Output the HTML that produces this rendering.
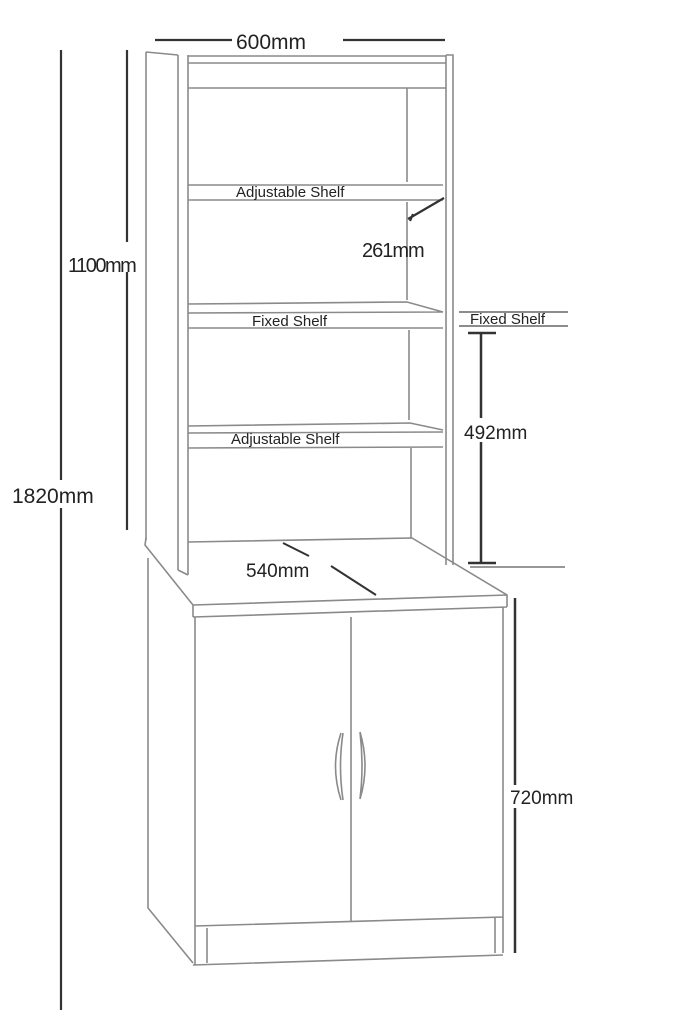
<!DOCTYPE html>
<html><head><style>
html,body{margin:0;padding:0;background:#fff;width:683px;height:1024px;overflow:hidden}
svg{display:block}
text{font-family:"Liberation Sans",sans-serif;fill:#222}
</style></head><body>
<svg width="683" height="1024" viewBox="0 0 683 1024" xmlns="http://www.w3.org/2000/svg">
<g fill="none" stroke="#8a8a8a" stroke-width="1.6">
<path d="M146 52 L178 55 M146 52 L146 540 M178 55 L178 570 M188 55 L188 575 M178 570 L188 575"/>
<path d="M446 55 L453 55 L453 565 M446 55 L446 565"/>
<path d="M188 56 L446 56 M188 63 L446 63 M188 88 L446 88"/>
<path d="M407 88 L407 182 M407 202 L407 300 M409 330 L409 420 M411 448 L411 538"/>
<path d="M188 185 L443 185 M188 200 L443 200"/>
<path d="M188 304 L407 302 L443 312 M188 313 L443 312 M188 328 L443 328"/>
<path d="M188 426 L410 423 L443 430 M188 433 L443 432 M188 448 L443 447"/>
<path d="M188 542 L412 538 L507 595 L507 607 M146 538 L145 545 L193 605 L193 617 M193 605 L507 595 M193 617 L507 607"/>
<path d="M148 558 L148 908 L193 963 M195 617 L195 965 M503 607 L503 953 M351 617 L351 921 M195 926 L503 917 M207 928 L207 963 M495 918 L495 953 M193 965 L503 955"/>
<path d="M341 733 Q330 766 341 800 M343 733 Q338 766 343 800 M360 732 Q370 766 360 799 M360 732 Q364 766 360 799"/>
</g>
<g stroke="#333" stroke-width="2.2" fill="none">
<path d="M61 50 L61 480 M61 508 L61 1010"/>
<path d="M127 50 L127 242 M127 272 L127 530"/>
<path d="M155 40 L232 40 M343 40 L445 40"/>
<path d="M408 219 L444 198 M413 214 L410 221"/>
<path d="M459 312 L568 312 M459 326 L568 326" stroke="#666" stroke-width="1.5"/>
<path d="M468 333 L496 333 M481 333 L481 418 M481 442 L481 563 M468 563 L496 563" stroke-width="2.5"/>
<path d="M470 567 L565 567" stroke="#777" stroke-width="1.4"/>
<path d="M515 598 L515 785 M515 808 L515 953" stroke-width="2.5"/>
<path d="M283 543 L309 556 M331 566 L376 595" stroke-width="2"/>
</g>
<text x="236" y="49" font-size="21">600mm</text>
<text x="68" y="272" font-size="20" style="letter-spacing:-1.5px">1100mm</text>
<text x="12" y="503" font-size="21">1820mm</text>
<text x="236" y="197" font-size="15">Adjustable Shelf</text>
<text x="362" y="257" font-size="20" style="letter-spacing:-1px">261mm</text>
<text x="252" y="326" font-size="15">Fixed Shelf</text>
<text x="470" y="324" font-size="15">Fixed Shelf</text>
<text x="231" y="444" font-size="15">Adjustable Shelf</text>
<text x="464" y="439" font-size="19">492mm</text>
<text x="246" y="577" font-size="19">540mm</text>
<text x="510" y="804" font-size="19">720mm</text>
</svg>
</body></html>
